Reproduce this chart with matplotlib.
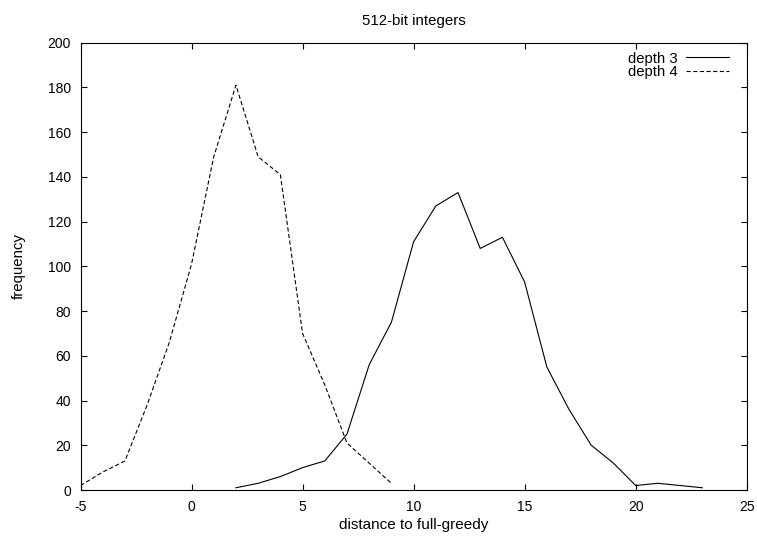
import matplotlib
matplotlib.use('Agg')
import matplotlib.pyplot as plt

# depth 3 (solid)
depth3_x = [2, 3, 4, 5, 6, 7, 8, 9, 10, 11, 12, 13, 14, 15, 16, 17, 18, 19, 20, 21, 22, 23]
depth3_y = [1, 3, 6, 10, 13, 25, 56, 75, 111, 127, 133, 108, 113, 93, 55, 36, 20, 12, 2, 3, 2, 1]

# depth 4 (dashed)
depth4_x = [-5, -4, -3, -2, -1, 0, 1, 2, 3, 4, 5, 6, 7, 8, 9]
depth4_y = [2, 8, 13, 38, 66, 101, 149, 181, 149, 141, 70, 47, 21, 12, 3]

xticks = [-5, 0, 5, 10, 15, 20, 25]
yticks = [0, 20, 40, 60, 80, 100, 120, 140, 160, 180, 200]

plt.rcParams['font.family'] = ['Liberation Sans', 'DejaVu Sans']
plt.rcParams['font.size'] = 10
plt.rcParams['lines.scale_dashes'] = False
plt.rcParams['axes.unicode_minus'] = False

W, H = 757, 537
fig = plt.figure(figsize=(W / 100, H / 100), dpi=100)
ax = fig.add_axes([80.5 / W, 1 - 490 / H, (746.7 - 80.5) / W, (490 - 42.7) / H])

ax.plot(depth3_x, depth3_y, color='black', lw=0.8, label='depth 3')
ax.plot(depth4_x, depth4_y, color='black', lw=0.8, dashes=(3, 1.8), label='depth 4')

ax.set_xlim(-5, 25)
ax.set_ylim(0, 200)
ax.set_xticks(xticks)
ax.set_yticks(yticks)
ax.tick_params(direction='in', length=4.5, width=0.8, top=True, right=True,
               pad=7, labelsize=10)
for s in ax.spines.values():
    s.set_linewidth(0.8)

ax.set_title('512-bit integers', fontsize=10.8, pad=12.5)
ax.set_xlabel('distance to full-greedy', fontsize=11)
ax.set_ylabel('frequency', fontsize=10.8)
ax.xaxis.set_label_coords(0.5, (490 - 518) / 447.3)
ax.yaxis.set_label_coords((26 - 80.5) / 666.2, 0.5)

ax.legend(loc='upper right', bbox_to_anchor=((729 - 80.5) / 666.2, (490 - 51.5) / 447.3),
          frameon=False, markerfirst=False, borderpad=0, borderaxespad=0,
          handlelength=2.9, handletextpad=0.55, labelspacing=-0.05, fontsize=10.7)

fig.savefig('out.png', dpi=100)
